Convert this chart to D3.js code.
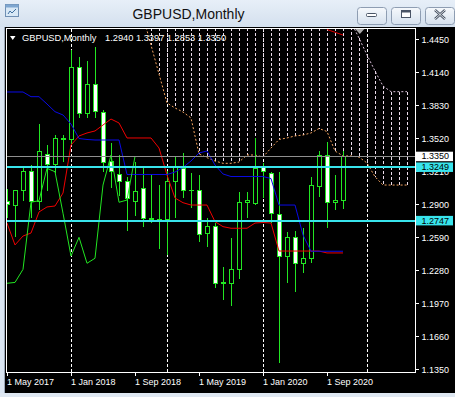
<!DOCTYPE html>
<html>
<head>
<meta charset="utf-8">
<script src="https://cdn.jsdelivr.net/npm/d3@7"></script>
<style>
body { margin: 0; background: #d9e4f1; overflow: hidden; }
svg { display: block; font-family: "Liberation Sans", Arial, sans-serif; }
</style>
</head>
<body>
<script>
// GBPUSD monthly, May 2017 .. Nov 2020 (bar 0 = May 2017)
const symbol = "GBPUSD,Monthly";
const firstMonth = new Date(2017, 4, 1);
const lastQuote = [1.2940, 1.3397, 1.2853, 1.3350];

const open  = [1.2922, 1.2888, 1.3025, 1.3210, 1.2931, 1.3372, 1.3278, 1.3515, 1.3511, 1.4187, 1.3755, 1.4021, 1.3764, 1.3300, 1.3182, 1.3112, 1.2925, 1.3044, 1.2765, 1.2758, 1.2753, 1.3112, 1.3238, 1.3030, 1.3028, 1.2628, 1.2690, 1.2160, 1.2158, 1.2289, 1.2919, 1.2910, 1.3244, 1.3192, 1.2800, 1.2408, 1.2590, 1.2346, 1.2393, 1.3066, 1.3363, 1.2919, 1.2940];
const high  = [1.3048, 1.3030, 1.3260, 1.3268, 1.3655, 1.3457, 1.3550, 1.3555, 1.4350, 1.4280, 1.4249, 1.4377, 1.3785, 1.3473, 1.3363, 1.3160, 1.3298, 1.3253, 1.3176, 1.3080, 1.3215, 1.3347, 1.3380, 1.3191, 1.3175, 1.2774, 1.2720, 1.2308, 1.2580, 1.3013, 1.3012, 1.3520, 1.3284, 1.3200, 1.3200, 1.2643, 1.2648, 1.2680, 1.3159, 1.3401, 1.3482, 1.3177, 1.3397];
const low   = [1.2774, 1.2589, 1.2932, 1.2774, 1.2849, 1.3027, 1.3195, 1.3302, 1.3460, 1.3711, 1.3708, 1.3708, 1.3206, 1.3050, 1.2980, 1.2649, 1.2786, 1.2690, 1.2724, 1.2477, 1.2424, 1.2773, 1.2957, 1.2862, 1.2549, 1.2502, 1.2117, 1.2001, 1.1947, 1.2195, 1.2768, 1.2894, 1.2957, 1.2726, 1.1406, 1.2158, 1.2079, 1.2252, 1.2346, 1.2971, 1.2675, 1.2846, 1.2853];
const close = [1.2894, 1.3026, 1.3210, 1.2931, 1.3400, 1.3278, 1.3518, 1.3508, 1.4187, 1.3754, 1.4021, 1.3770, 1.3294, 1.3206, 1.3112, 1.2950, 1.3020, 1.2762, 1.2758, 1.2755, 1.3112, 1.3253, 1.3034, 1.3026, 1.2618, 1.2690, 1.2158, 1.2166, 1.2289, 1.2919, 1.2934, 1.3238, 1.3206, 1.2816, 1.2414, 1.2590, 1.2346, 1.2393, 1.3081, 1.3363, 1.2919, 1.2940, 1.3350];

// ichimoku lines
const tenkan = [1.2724, 1.2518, 1.2602, 1.2630, 1.2828, 1.2875, 1.2884, 1.3006, 1.3457, 1.3542, 1.3570, 1.3589, 1.3645, 1.3701, 1.3664, 1.3523, 1.3523, 1.3523, 1.3523, 1.3429, 1.3175, 1.2959, 1.2915, 1.2893, 1.2893, 1.2893, 1.2737, 1.2690, 1.2675, 1.2675, 1.2675, 1.2724, 1.2729, 1.2724, 1.2461, 1.2461, 1.2461, 1.2461, 1.2461, 1.2461, 1.2443, 1.2443, 1.2443];
const kijun  = [1.3955, 1.3955, 1.3955, 1.3911, 1.3911, 1.3842, 1.3770, 1.3739, 1.3654, 1.3518, 1.3509, 1.3504, 1.3504, 1.3504, 1.3504, 1.3180, 1.3180, 1.3180, 1.3180, 1.3180, 1.3180, 1.3203, 1.3246, 1.3307, 1.3382, 1.3401, 1.3269, 1.3185, 1.3161, 1.3161, 1.3161, 1.3161, 1.3161, 1.3142, 1.2893, 1.2893, 1.2893, 1.2612, 1.2459, 1.2459, 1.2459, 1.2459, 1.2459];
const chikou = [1.2158, 1.2166, 1.2289, 1.2919, 1.2934, 1.3238, 1.3206, 1.2816, 1.2414, 1.2590, 1.2346, 1.2393, 1.3081, 1.3363, 1.2919, 1.2940, 1.3350];
// cloud starts at bar 17 and runs 8 bars past the last candle
const cloudStart = 17;
const senkouA = [1.4669, 1.4396, 1.4124, 1.3852, 1.3805, 1.3767, 1.3711, 1.3373, 1.3338, 1.3307, 1.3285, 1.3285, 1.3297, 1.3363, 1.3363, 1.3344, 1.3429, 1.3509, 1.3523, 1.3542, 1.3551, 1.3570, 1.3612, 1.3584, 1.3401, 1.3354, 1.3354, 1.3344, 1.3288, 1.3159, 1.3081, 1.3081, 1.3081, 1.3081];
const senkouB = [1.4700, 1.4700, 1.4700, 1.4700, 1.4700, 1.4700, 1.4700, 1.4700, 1.4700, 1.4700, 1.4700, 1.4700, 1.4700, 1.4700, 1.4700, 1.4700, 1.4700, 1.4700, 1.4700, 1.4700, 1.4700, 1.4700, 1.4700, 1.4700, 1.4700, 1.4700, 1.4612, 1.4462, 1.4303, 1.4152, 1.4011, 1.3958, 1.3958, 1.3958];

const hLines = [1.3249, 1.2747];
const bidPrice = 1.3350;
const trendLine = [{bar: 40, price: 1.4542}, {bar: 42, price: 1.4490}];
const yTicks = [1.4450, 1.4140, 1.3830, 1.3520, 1.3210, 1.2900, 1.2590, 1.2280, 1.1970, 1.1660, 1.1350];
const xTicks = [0, 8, 16, 24, 32, 40];
const separatorBars = [8, 20, 32, 45];
const shiftBar = 44.1;

const lime = "#22e622";

const svg = d3.select("body").append("svg").attr("width", 455).attr("height", 397);
const defs = svg.append("defs");

const tg = defs.append("linearGradient").attr("id", "titleGrad").attr("x1", 0).attr("y1", 0).attr("x2", 0).attr("y2", 1);
tg.append("stop").attr("offset", "0%").attr("stop-color", "#e7eff8");
tg.append("stop").attr("offset", "100%").attr("stop-color", "#d4e0ee");
const bg = defs.append("linearGradient").attr("id", "btnGrad").attr("x1", 0).attr("y1", 0).attr("x2", 0).attr("y2", 1);
bg.append("stop").attr("offset", "0%").attr("stop-color", "#f6f9fc");
bg.append("stop").attr("offset", "100%").attr("stop-color", "#d6e1ee");

defs.append("clipPath").attr("id", "plotClip").append("rect")
    .attr("x", 7).attr("y", 29).attr("width", 408).attr("height", 343);

// ---- window chrome
svg.append("rect").attr("x", 0).attr("y", 0).attr("width", 455).attr("height", 27).attr("fill", "url(#titleGrad)");
svg.append("rect").attr("x", 5).attr("y", 27).attr("width", 450).attr("height", 366).attr("fill", "#000");
svg.append("line").attr("x1", 4.5).attr("x2", 4.5).attr("y1", 27).attr("y2", 393).attr("stroke", "#9aa6b6");

const icon = svg.append("g");
icon.append("rect").attr("x", 5.5).attr("y", 4.5).attr("width", 13).attr("height", 12).attr("fill", "#d8e8f6").attr("stroke", "#6f8fb3");
icon.append("rect").attr("x", 5.5).attr("y", 4.5).attr("width", 13).attr("height", 3).attr("fill", "#7ea6d0");
icon.append("path").attr("d", "M8 14 L10 11 L12 13 L16 9").attr("fill", "none").attr("stroke", "#3f6f9f");

svg.append("text").attr("x", 188.5).attr("y", 18.5).attr("text-anchor", "middle")
    .attr("font-size", 14).attr("fill", "#111").text(symbol);

const buttons = [357, 391, 425];
buttons.forEach((bx, k) => {
    svg.append("rect").attr("x", bx + 0.5).attr("y", 7.5).attr("width", 29).attr("height", 17).attr("rx", 3)
        .attr("fill", "url(#btnGrad)").attr("stroke", "#8e9db2");
    const cx = bx + 15;
    if (k === 0) {
        svg.append("rect").attr("x", cx - 5.5).attr("y", 13.5).attr("width", 10).attr("height", 3).attr("rx", 1)
            .attr("fill", "#fff").attr("stroke", "#4a5566");
    } else if (k === 1) {
        svg.append("rect").attr("x", cx - 4.5).attr("y", 10.5).attr("width", 9).attr("height", 7)
            .attr("fill", "#fff").attr("stroke", "#4a5566");
        svg.append("rect").attr("x", cx - 4.5).attr("y", 10.5).attr("width", 9).attr("height", 2).attr("fill", "#4a5566");
    } else {
        svg.append("path").attr("d", `M${cx - 5} ${10} L${cx + 5} ${19} M${cx + 5} ${10} L${cx - 5} ${19}`)
            .attr("stroke", "#4a5566").attr("stroke-width", 2.4);
        svg.append("path").attr("d", `M${cx - 5} ${10} L${cx + 5} ${19} M${cx + 5} ${10} L${cx - 5} ${19}`)
            .attr("stroke", "#fff").attr("stroke-width", 0.8);
    }
});

// ---- scales
const x = d3.scaleLinear().domain([-0.125, 51]).range([6, 415]);
const y = d3.scaleLinear().domain([1.1350, 1.4450]).range([369.3, 39.3]);
const px = i => Math.round(x(i)) + 0.5;

const plotG = svg.append("g").attr("clip-path", "url(#plotClip)");

// period separators
plotG.append("g").selectAll("line").data(separatorBars).join("line")
    .attr("x1", d => px(d)).attr("x2", d => px(d)).attr("y1", 29).attr("y2", 372)
    .attr("stroke", "#fff").attr("stroke-dasharray", "3,2").attr("shape-rendering", "crispEdges");

// cloud hatch
const cloud = senkouA.map((a, k) => ({i: cloudStart + k, a, b: senkouB[k]}));
plotG.append("g").selectAll("line").data(cloud).join("line")
    .attr("x1", d => px(d.i)).attr("x2", d => px(d.i))
    .attr("y1", d => y(Math.max(d.a, d.b))).attr("y2", d => y(Math.min(d.a, d.b)))
    .attr("stroke", "#eadcea").attr("stroke-dasharray", "3,2").attr("shape-rendering", "crispEdges");
plotG.append("path").datum(cloud)
    .attr("d", d3.line().x(d => x(d.i)).y(d => y(d.a)))
    .attr("fill", "none").attr("stroke", "#f4a460").attr("stroke-dasharray", "2,2");
plotG.append("path").datum(cloud)
    .attr("d", d3.line().x(d => x(d.i)).y(d => y(d.b)))
    .attr("fill", "none").attr("stroke", "#d8bfd8").attr("stroke-dasharray", "2,2");

// candles
const bars = open.map((o, i) => ({i, o, h: high[i], l: low[i], c: close[i]}));
const cg = plotG.append("g").attr("shape-rendering", "crispEdges");
cg.selectAll("line").data(bars).join("line")
    .attr("x1", d => px(d.i)).attr("x2", d => px(d.i))
    .attr("y1", d => y(d.h)).attr("y2", d => y(d.l))
    .attr("stroke", lime);
cg.selectAll("rect").data(bars).join("rect")
    .attr("x", d => px(d.i) - 2).attr("width", 4)
    .attr("y", d => y(Math.max(d.o, d.c)))
    .attr("height", d => Math.abs(y(d.o) - y(d.c)))
    .attr("fill", d => d.c >= d.o ? "#000" : "#fff")
    .attr("stroke", lime);

// indicator lines
const line = d3.line().x((v, i) => x(i)).y(v => y(v));
plotG.append("path").attr("d", line(tenkan)).attr("fill", "none").attr("stroke", "#f00000");
plotG.append("path").attr("d", line(kijun)).attr("fill", "none").attr("stroke", "#0a0ae6");
plotG.append("path").attr("d", line(chikou)).attr("fill", "none").attr("stroke", lime);

// objects
plotG.append("path").datum(trendLine)
    .attr("d", d3.line().x(d => x(d.bar)).y(d => y(d.price)))
    .attr("stroke", "#e00000").attr("fill", "none");
plotG.append("line").attr("x1", 7).attr("x2", 415).attr("y1", Math.round(y(bidPrice)) + 0.5).attr("y2", Math.round(y(bidPrice)) + 0.5)
    .attr("stroke", "#8f8f8f");
plotG.append("g").selectAll("line").data(hLines).join("line")
    .attr("x1", 7).attr("x2", 415).attr("y1", d => Math.round(y(d))).attr("y2", d => Math.round(y(d)))
    .attr("stroke", "#38e4ec").attr("stroke-width", 2);

// chart shift marker
svg.append("path")
    .attr("d", `M${x(shiftBar) - 4.5} 29 L${x(shiftBar) + 4.5} 29 L${x(shiftBar)} 34 Z`)
    .attr("fill", "#a8a8a8");

// frame
svg.append("rect").attr("x", 6.5).attr("y", 28.5).attr("width", 409).attr("height", 344)
    .attr("fill", "none").attr("stroke", "#fff").attr("shape-rendering", "crispEdges");

// axes
const yAxis = svg.append("g").attr("transform", "translate(415.5,0)")
    .call(d3.axisRight(y).tickValues(yTicks).tickSize(3).tickFormat(d3.format(".4f")));
yAxis.select(".domain").remove();
yAxis.selectAll("line").attr("stroke", "#fff").attr("shape-rendering", "crispEdges");
yAxis.selectAll("text").attr("fill", "#fff").attr("font-size", 9).attr("font-family", "Liberation Sans, Arial, sans-serif");

const fmtDate = d3.timeFormat("%-d %b %Y");
const xAxis = svg.append("g").attr("transform", "translate(0,372.5)")
    .call(d3.axisBottom(x).tickValues(xTicks).tickSize(3)
        .tickFormat(i => fmtDate(d3.timeMonth.offset(firstMonth, i))));
xAxis.select(".domain").remove();
xAxis.selectAll(".tick").attr("transform", d => `translate(${px(d)},0)`);
xAxis.selectAll("line").attr("stroke", "#fff").attr("shape-rendering", "crispEdges");
xAxis.selectAll("text").attr("fill", "#fff").attr("font-size", 9).attr("text-anchor", "start").attr("x", -0.5)
    .attr("font-family", "Liberation Sans, Arial, sans-serif");

// price labels on the scale
const tags = [{p: bidPrice, fill: "#fff"}].concat(hLines.map(p => ({p, fill: "#38e4ec"})));
const tg2 = svg.append("g").selectAll("g").data(tags).join("g")
    .attr("transform", d => `translate(0,${y(d.p)})`);
tg2.append("rect").attr("x", 416).attr("y", -4.7).attr("width", 37).attr("height", 9.5).attr("fill", d => d.fill);
tg2.append("text").attr("x", 421.5).attr("dy", "0.33em").attr("font-size", 9).attr("fill", "#000")
    .text(d => d3.format(".4f")(d.p));

// header
svg.append("path").attr("d", "M10 36 L15.5 36 L12.75 40 Z").attr("fill", "#fff");
const head = svg.append("text").attr("y", 41.3).attr("font-size", 9.3).attr("fill", "#fff");
head.append("tspan").attr("x", 22).text(symbol);
head.selectAll("tspan.q").data(lastQuote).join("tspan").attr("class", "q")
    .attr("x", (d, k) => 105 + k * 30.9).text(d => d3.format(".4f")(d));

// bottom window border
svg.append("rect").attr("x", 0).attr("y", 393).attr("width", 455).attr("height", 4).attr("fill", "#dfe8f2");
</script>
</body>
</html>
